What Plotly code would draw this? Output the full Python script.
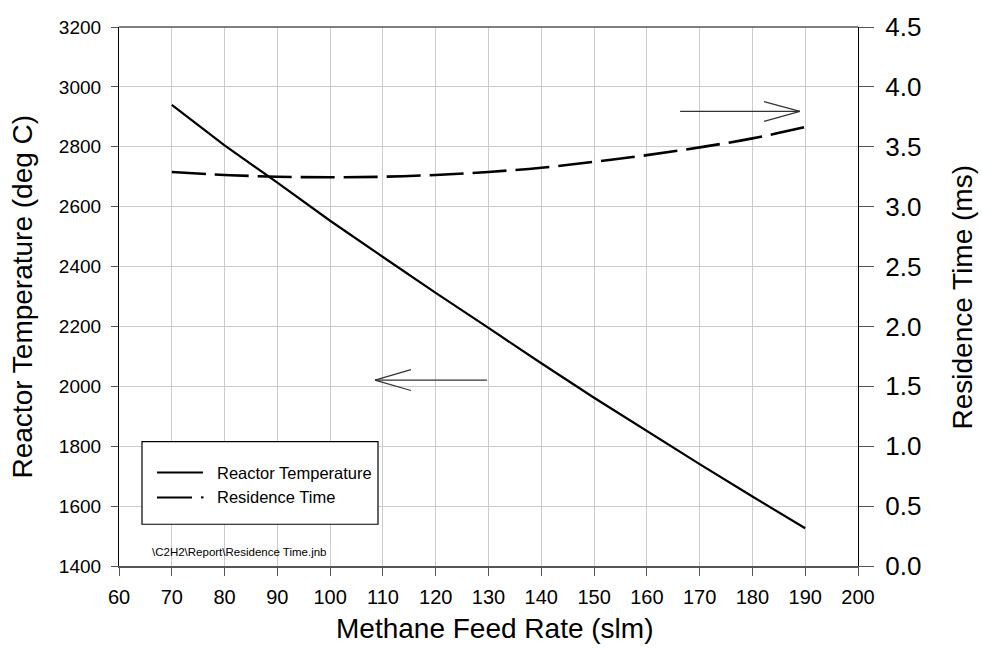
import plotly.graph_objects as go

# ---- data ----
feed_rate = [70, 80, 90, 100, 110, 120, 130, 140, 150, 160, 170, 180, 190]
reactor_temp = [2940, 2805, 2680, 2553, 2432, 2312, 2195, 2077, 1962, 1850, 1740, 1632, 1526]
residence_time = [3.29, 3.265, 3.25, 3.245, 3.25, 3.265, 3.29, 3.325, 3.375, 3.43, 3.495, 3.57, 3.665]

x_ticks = list(range(60, 201, 10))
y1_ticks = list(range(1400, 3201, 200))
y2_ticks = [0.0, 0.5, 1.0, 1.5, 2.0, 2.5, 3.0, 3.5, 4.0, 4.5]

FONT = "Liberation Sans, Arial, sans-serif"
W, H = 982, 660
L, R, T, B = 119, 124, 24, 94
PW, PH = W - L - R, H - T - B


def px(xp):
    return (xp - L) / PW


def py(yp):
    return (H - B - yp) / PH


fig = go.Figure()
fig.add_trace(go.Scatter(x=feed_rate, y=reactor_temp, mode="lines",
                         line=dict(color="black", width=2.2), name="Reactor Temperature",
                         showlegend=False))
fig.add_trace(go.Scatter(x=feed_rate, y=residence_time, mode="lines", yaxis="y2",
                         line=dict(color="black", width=2.6, dash="34px,9px", shape="spline"),
                         name="Residence Time", showlegend=False))

grid = "#cccccc"
dark = "#555555"
fig.update_layout(
    width=W, height=H,
    margin=dict(l=L, r=R, t=T, b=B),
    paper_bgcolor="white", plot_bgcolor="white",
    font=dict(family=FONT, color="black"),
    xaxis=dict(range=[60, 200], tickvals=x_ticks, ticks="outside", ticklen=8, tickcolor=dark,
               showgrid=True, gridcolor=grid, gridwidth=1, zeroline=False,
               showline=True, linecolor=dark, linewidth=1.5,
               tickfont=dict(size=20), ticklabelstandoff=4),
    yaxis=dict(range=[1400, 3200], tickvals=y1_ticks, ticks="outside", ticklen=7, tickcolor=dark,
               showgrid=True, gridcolor=grid, gridwidth=1, zeroline=False,
               showline=True, linecolor="black", linewidth=1.2,
               tickfont=dict(size=19), ticklabelstandoff=6),
    yaxis2=dict(range=[0, 4.5], tickvals=y2_ticks, ticktext=[f"{v:.1f}" for v in y2_ticks],
                overlaying="y", side="right", ticks="outside", ticklen=15, tickcolor=dark,
                showgrid=False, zeroline=False, showline=True, linecolor="black", linewidth=1.2,
                tickfont=dict(size=26), ticklabelstandoff=6),
)

shapes = []
# dark top line
shapes.append(dict(type="line", xref="paper", yref="paper", x0=0, x1=1, y0=1, y1=1,
                   line=dict(color=dark, width=1.5)))

# arrows (open heads)
def arrow(x_tail, x_tip, y, arm_dx, arm_dy):
    out = [dict(type="line", xref="x", yref="y", x0=x_tail, x1=x_tip, y0=y, y1=y,
                line=dict(color="#333333", width=1.2))]
    for s in (1, -1):
        out.append(dict(type="line", xref="x", yref="y", x0=x_tip, x1=x_tip + arm_dx,
                        y0=y, y1=y + s * arm_dy, line=dict(color="#333333", width=1.2)))
    return out

shapes += arrow(129.7, 108.5, 2021, 6.8, 35)
shapes += arrow(166.3, 189.0, 2918, -6.8, 33)

# legend box
shapes.append(dict(type="rect", xref="paper", yref="paper", x0=px(142), x1=px(378),
                   y0=py(524), y1=py(441), line=dict(color="black", width=1.2),
                   fillcolor="white", layer="above"))
shapes.append(dict(type="line", xref="paper", yref="paper", x0=px(157), x1=px(203),
                   y0=py(472), y1=py(472), line=dict(color="black", width=2), layer="above"))
shapes.append(dict(type="line", xref="paper", yref="paper", x0=px(157), x1=px(192),
                   y0=py(497), y1=py(497), line=dict(color="black", width=2), layer="above"))
shapes.append(dict(type="line", xref="paper", yref="paper", x0=px(201), x1=px(203.5),
                   y0=py(497), y1=py(497), line=dict(color="black", width=2), layer="above"))
fig.update_layout(shapes=shapes)

ann = [
    dict(text="Reactor Temperature", x=px(215), y=py(472)),
    dict(text="Residence Time", x=px(215), y=py(497)),
]
annotations = [dict(xref="paper", yref="paper", xanchor="left", yanchor="middle",
                    showarrow=False, font=dict(size=16.5), **a) for a in ann]
annotations.append(dict(text="\\C2H2\\Report\\Residence Time.jnb", xref="paper", yref="paper",
                        x=px(150), y=py(552), xanchor="left", yanchor="middle",
                        showarrow=False, font=dict(size=11.5)))
annotations.append(dict(text="Reactor Temperature (deg C)", xref="paper", yref="paper",
                        x=px(22), y=py(295), textangle=-90, xanchor="center", yanchor="middle",
                        showarrow=False, font=dict(size=28)))
annotations.append(dict(text="Residence Time (ms)", xref="paper", yref="paper",
                        x=px(962), y=py(295), textangle=-90, xanchor="center", yanchor="middle",
                        showarrow=False, font=dict(size=28)))
annotations.append(dict(text="Methane Feed Rate (slm)", xref="paper", yref="paper",
                        x=px(494), y=py(629), xanchor="center", yanchor="middle",
                        showarrow=False, font=dict(size=28)))
fig.update_layout(annotations=annotations)

fig.write_html("out.html")
